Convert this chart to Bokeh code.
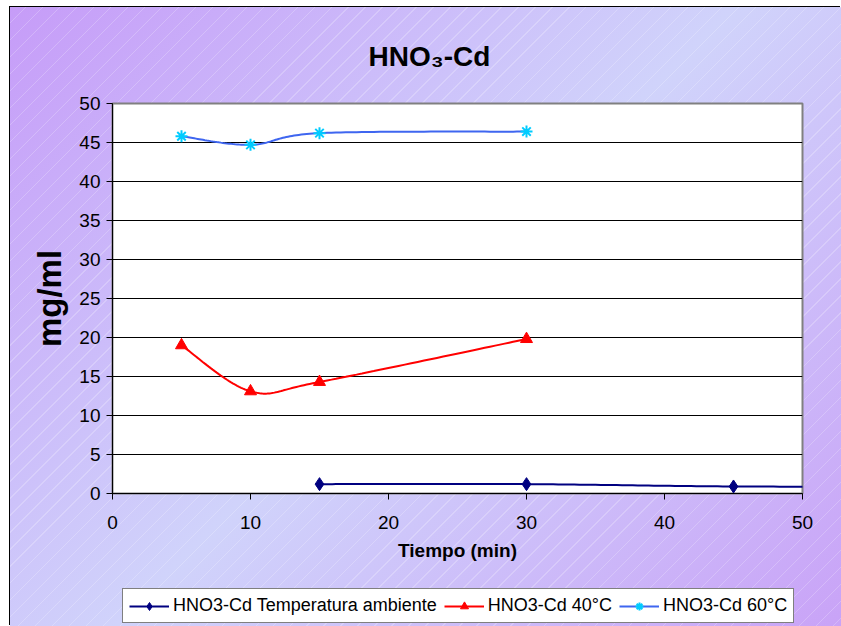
import numpy as np
from bokeh.plotting import figure
from bokeh.layouts import column
from bokeh.models import Legend, LegendItem, Range1d, FixedTicker, Label
from bokeh.embed import file_html
from bokeh.resources import INLINE

# ---- data ----
tiempo_amb = [15, 30, 45, 60]
conc_amb = [1.2, 1.2, 0.9, 0.9]
tiempo_40 = [5, 10, 15, 30]
conc_40 = [19.0, 13.1, 14.3, 19.8]
tiempo_60 = [5, 10, 15, 30]
conc_60 = [45.8, 44.7, 46.2, 46.4]
series_labels = ["HNO3-Cd Temperatura ambiente", "HNO3-Cd 40°C", "HNO3-Cd 60°C"]
x_ticks = [0, 10, 20, 30, 40, 50]
y_ticks = [0, 5, 10, 15, 20, 25, 30, 35, 40, 45, 50]
title_text = "HNO₃-Cd"
x_label = "Tiempo (min)"
y_label = "mg/ml"

colors = ["#000080", "#ff0000", "#3f66f0"]
marker_colors = ["#000080", "#ff0000", "#00ccff"]
markers = ["diamond", "triangle", "asterisk"]
marker_sizes = [13, 12, 12]


def smooth(xs, ys, n=40):
    """Excel-like smoothed line (Catmull-Rom Bezier through the points)."""
    P = np.column_stack([xs, ys]).astype(float)
    m = len(P)
    out = [P[0]]
    t = np.linspace(0, 1, n)[1:, None]
    for i in range(m - 1):
        p0 = P[i - 1] if i > 0 else P[i]
        p1 = P[i]
        p2 = P[i + 1]
        p3 = P[i + 2] if i + 2 < m else P[i + 1]
        c1 = p1 + (p2 - p0) / 6.0
        c2 = p2 - (p3 - p1) / 6.0
        seg = (1 - t) ** 3 * p1 + 3 * (1 - t) ** 2 * t * c1 + 3 * (1 - t) * t ** 2 * c2 + t ** 3 * p2
        out.extend(seg)
    out = np.array(out)
    return out[:, 0], out[:, 1]


FONT = "Liberation Sans"
W = 831


def strip(height):
    f = figure(width=W, height=height, x_range=Range1d(0, 1), y_range=Range1d(0, 1),
               x_axis_type=None, y_axis_type=None,
               output_backend="svg", toolbar_location=None,
               min_border_left=0, min_border_right=0, min_border_top=0, min_border_bottom=0,
               background_fill_alpha=0, border_fill_alpha=0, outline_line_color=None)
    f.grid.visible = False
    return f


def add_series(fig, xs, ys, lc, mc, mk, ms):
    sx, sy = smooth(xs, ys)
    rl = fig.line(sx, sy, line_color=lc, line_width=2)
    if mk == "asterisk":
        rm = fig.scatter(xs, ys, marker=mk, size=ms, line_color=mc, line_width=2)
    else:
        rm = fig.scatter(xs, ys, marker=mk, size=ms, fill_color=mc, line_color=mc)
    return rl, rm


# ---- title strip (frame aligned with the chart frame) ----
t = strip(70)
t.add_layout(Label(x=317, y=21, x_units="screen", y_units="screen", text=title_text,
                   text_font=FONT, text_font_size="28px", text_font_style="bold",
                   text_color="black", text_align="center", text_baseline="middle"))

# ---- main chart ----
p = figure(width=W, height=507,
           x_range=Range1d(0, 50), y_range=Range1d(0, 50),
           output_backend="svg", toolbar_location=None,
           min_border_left=102, min_border_right=39,
           min_border_top=26, min_border_bottom=91,
           background_fill_color="white", border_fill_alpha=0)

p.outline_line_color = "#808080"
p.outline_line_width = 2

for ax in (p.xaxis, p.yaxis):
    ax.axis_line_color = "black"
    ax.axis_line_width = 1
    ax.major_tick_line_color = "black"
    ax.major_tick_out = 6
    ax.major_tick_in = 0
    ax.minor_tick_out = 0
    ax.minor_tick_in = 0
    ax.major_label_text_font = FONT
    ax.major_label_text_font_size = "19px"
    ax.major_label_text_color = "black"
    ax.axis_label_text_font = FONT
    ax.axis_label_text_font_style = "bold"
    ax.axis_label_text_color = "black"

p.xaxis.ticker = FixedTicker(ticks=x_ticks)
p.yaxis.ticker = FixedTicker(ticks=y_ticks)
p.xaxis.axis_label = x_label
p.xaxis.axis_label_text_font_size = "19px"
p.xaxis.major_label_standoff = 16
p.xaxis.axis_label_standoff = 8
p.yaxis.axis_label = y_label
p.yaxis.axis_label_text_font_size = "33px"
p.yaxis.major_label_standoff = 6
p.yaxis.axis_label_standoff = 8

p.xgrid.visible = False
p.ygrid.ticker = FixedTicker(ticks=y_ticks)
p.ygrid.grid_line_color = "black"
p.ygrid.grid_line_width = 1

series = [(tiempo_amb, conc_amb), (tiempo_40, conc_40), (tiempo_60, conc_60)]
for (xs, ys), lc, mc, mk, ms in zip(series, colors, marker_colors, markers, marker_sizes):
    add_series(p, xs, ys, lc, mc, mk, ms)

# ---- legend strip (its own copies of the series lie outside its 0..1 ranges) ----
q = strip(42)
items = []
for (xs, ys), lab, lc, mc, mk, ms in zip(series, series_labels, colors, marker_colors, markers, marker_sizes):
    rl, rm = add_series(q, xs, ys, lc, mc, mk, ms)
    items.append(LegendItem(label=lab, renderers=[rl, rm]))

legend = Legend(items=items, orientation="horizontal", location=(10, 3))
legend.border_line_color = "black"
legend.border_line_width = 1
legend.background_fill_color = "white"
legend.background_fill_alpha = 1
legend.label_text_font = FONT
legend.label_text_font_size = "18px"
legend.label_text_color = "black"
legend.glyph_width = 40
legend.glyph_height = 20
legend.label_standoff = 4
legend.spacing = 7
legend.padding = 6
legend.margin = 0
q.add_layout(legend)

layout = column(t, p, q, spacing=0)
layout.margin = (7, 0, 0, 10)
layout.styles = {
    "background-image": (
        "repeating-linear-gradient(135deg, rgba(255,255,255,0) 0px, rgba(255,255,255,0) 11px, "
        "rgba(255,255,255,0.22) 11px, rgba(255,255,255,0.22) 12px), "
        "linear-gradient(135deg, #c69cf8 0%, #d0d3fb 50%, #c9a3f7 100%)"
    ),
    "box-shadow": "-1px -1px 0 0 black",
}

open("out.html", "w").write(file_html(layout, INLINE))
